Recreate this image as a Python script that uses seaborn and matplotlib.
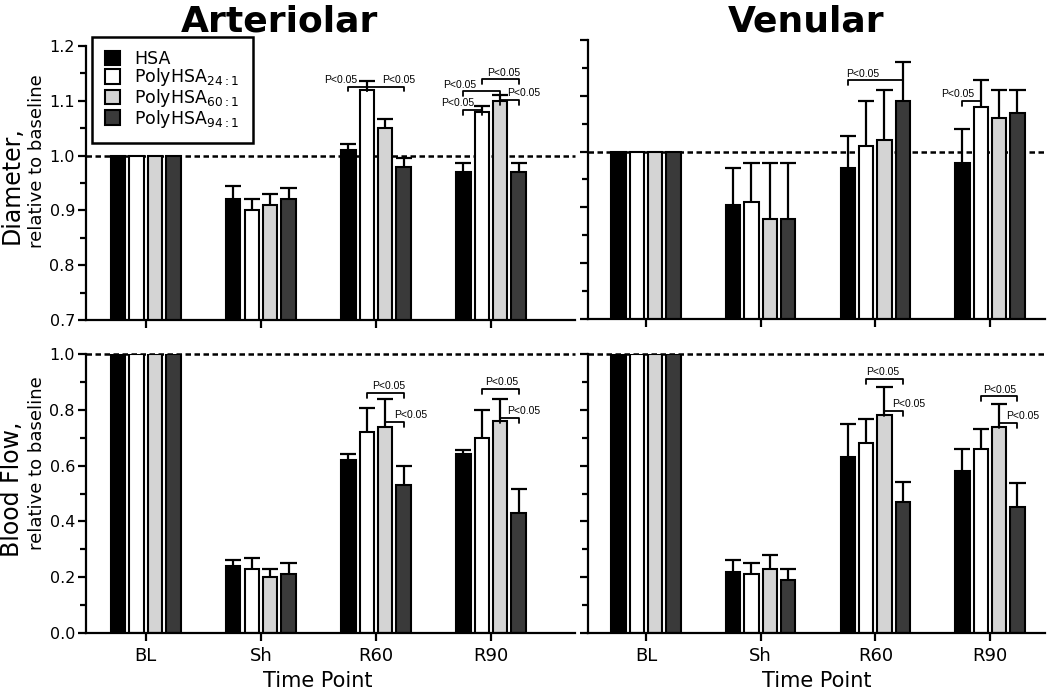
import pandas as pd
import matplotlib
matplotlib.use("Agg")
import matplotlib.pyplot as plt
from matplotlib.ticker import MultipleLocator, FormatStrFormatter
import seaborn as sns

sns.set_style("ticks")
plt.rcParams["font.family"] = ["DejaVu Sans"]
plt.rcParams["mathtext.fontset"] = "dejavusans"
for k in ["text.color", "axes.labelcolor", "xtick.color", "ytick.color", "axes.edgecolor"]:
    plt.rcParams[k] = "black"

time_points = ["BL", "Sh", "R60", "R90"]
treatments = ["HSA", "PolyHSA$_{24:1}$", "PolyHSA$_{60:1}$", "PolyHSA$_{94:1}$"]
bar_colors = ["#000000", "#ffffff", "#d4d4d4", "#3a3a3a"]

# one row per treatment, columns follow time_points
art_diam = [[1.0, 0.92, 1.01, 0.97],
            [1.0, 0.90, 1.12, 1.08],
            [1.0, 0.91, 1.05, 1.10],
            [1.0, 0.92, 0.98, 0.97]]
art_diam_err = [[0, 0.025, 0.012, 0.017],
                [0, 0.020, 0.016, 0.010],
                [0, 0.020, 0.017, 0.010],
                [0, 0.021, 0.016, 0.017]]

ven_diam = [[1.0, 0.905, 0.97, 0.98],
            [1.0, 0.91, 1.01, 1.08],
            [1.0, 0.88, 1.02, 1.06],
            [1.0, 0.88, 1.09, 1.07]]
ven_diam_err = [[0, 0.065, 0.058, 0.060],
                [0, 0.070, 0.080, 0.048],
                [0, 0.100, 0.090, 0.050],
                [0, 0.100, 0.070, 0.040]]

art_flow = [[1.0, 0.24, 0.62, 0.64],
            [1.0, 0.23, 0.72, 0.70],
            [1.0, 0.20, 0.74, 0.76],
            [1.0, 0.21, 0.53, 0.43]]
art_flow_err = [[0, 0.02, 0.020, 0.016],
                [0, 0.04, 0.087, 0.100],
                [0, 0.03, 0.100, 0.080],
                [0, 0.04, 0.070, 0.087]]

ven_flow = [[1.0, 0.22, 0.63, 0.58],
            [1.0, 0.21, 0.68, 0.66],
            [1.0, 0.23, 0.78, 0.74],
            [1.0, 0.19, 0.47, 0.45]]
ven_flow_err = [[0, 0.04, 0.120, 0.078],
                [0, 0.04, 0.086, 0.070],
                [0, 0.05, 0.100, 0.080],
                [0, 0.04, 0.070, 0.088]]

# significance brackets: (time point, bar a, bar b, level, label position in bar units)
art_diam_sig = [(2, 0, 1, 1.126, -0.4), (2, 1, 3, 1.126, 2.75),
                (3, 0, 1, 1.083, -0.3), (3, 0, 2, 1.117, -0.2),
                (3, 1, 3, 1.139, 2.2), (3, 2, 3, 1.102, 3.3)]
ven_diam_sig = [(2, 0, 3, 1.128, 0.8), (3, 0, 1, 1.091, -0.27)]
art_flow_sig = [(2, 1, 3, 0.862, 2.2), (2, 2, 3, 0.758, 3.4),
                (3, 1, 3, 0.874, 2.1), (3, 2, 3, 0.772, 3.3)]
ven_flow_sig = [(2, 1, 3, 0.910, 1.9), (2, 2, 3, 0.797, 3.3),
                (3, 1, 3, 0.848, 2.05), (3, 2, 3, 0.753, 3.3)]


def long_table(values, errors):
    rows = []
    for t, vals, errs in zip(treatments, values, errors):
        for tp, v, e in zip(time_points, vals, errs):
            rows.append({"time": tp, "group": t, "value": v, "err": e})
    return pd.DataFrame(rows)


def draw_panel(ax, values, errors, sig, ylim, major, xlim, ylabels=True, xlabels=True, legend=False):
    df = long_table(values, errors)
    sns.barplot(data=df, x="time", y="value", hue="group", order=time_points,
                hue_order=treatments, palette=dict(zip(treatments, bar_colors)),
                saturation=1, width=0.64, gap=0.22, edgecolor="black", linewidth=1.5,
                errorbar=None, legend=legend, ax=ax, zorder=2)
    ax.axhline(1.0, color="black", lw=1.8, ls=(0, (2.2, 1.4)), zorder=0.5, clip_on=False)

    cap = 0.07
    for h, cont in enumerate(ax.containers):
        for g, bar in enumerate(cont):
            e = errors[h][g]
            if e <= 0:
                continue
            xc = bar.get_x() + bar.get_width() / 2
            top = bar.get_height() + e
            ax.vlines(xc, bar.get_height(), top, color="black", lw=1.6, zorder=3)
            ax.hlines(top, xc - cap, xc + cap, color="black", lw=1.6, zorder=3)

    tick = 0.018 * (ylim[1] - ylim[0])
    for g, i, j, y, lx in sig:
        xs = [ax.containers[h][g].get_x() + ax.containers[h][g].get_width() / 2 for h in range(4)]
        pitch = xs[1] - xs[0]
        ax.plot([xs[i], xs[i], xs[j], xs[j]], [y - tick, y, y, y - tick],
                color="black", lw=1.3, zorder=4, clip_on=False)
        ax.annotate("P<0.05", (xs[0] + lx * pitch, y), xytext=(0, 1.2),
                    textcoords="offset points", ha="center", va="bottom",
                    fontsize=7.5, family="Liberation Sans")

    ax.set_xlim(xlim)
    ax.set_ylim(ylim)
    ax.yaxis.set_major_locator(MultipleLocator(major))
    ax.yaxis.set_minor_locator(MultipleLocator(major / 2))
    ax.yaxis.set_major_formatter(FormatStrFormatter("%.1f"))
    sns.despine(ax=ax)
    for s in ["left", "bottom"]:
        ax.spines[s].set_linewidth(1.6)
        ax.spines[s].set_color("black")
    ax.tick_params(which="major", width=1.6, length=6, color="black", labelsize=11.5, pad=2)
    ax.tick_params(axis="x", labelsize=13, pad=4)
    ax.tick_params(which="minor", width=1.6, length=4, color="black")
    ax.tick_params(axis="y", labelleft=ylabels)
    ax.tick_params(axis="x", labelbottom=xlabels)
    ax.set_xlabel("")
    ax.set_ylabel("")


fig = plt.figure(figsize=(10.5, 6.92), dpi=100)
W, H = 1050, 692


def box(l, r, t, b):
    return [l / W, 1 - b / H, (r - l) / W, (b - t) / H]


ax_tl = fig.add_axes(box(86, 575, 46, 320))
ax_tr = fig.add_axes(box(588, 1045, 40, 319))
ax_bl = fig.add_axes(box(86, 575, 354, 633))
ax_br = fig.add_axes(box(588, 1045, 354, 633))

left_x = (-0.52, 3.73)
right_x = (-0.506, 3.48)
draw_panel(ax_tl, art_diam, art_diam_err, art_diam_sig, (0.7, 1.2), 0.1, left_x,
           xlabels=False, legend=True)
draw_panel(ax_tr, ven_diam, ven_diam_err, ven_diam_sig, (0.7, 1.2), 0.1, right_x,
           ylabels=False, xlabels=False)
draw_panel(ax_bl, art_flow, art_flow_err, art_flow_sig, (0.0, 1.0), 0.2, left_x)
draw_panel(ax_br, ven_flow, ven_flow_err, ven_flow_sig, (0.0, 1.0), 0.2, right_x,
           ylabels=False)

sns.move_legend(ax_tl, "upper left", bbox_to_anchor=(91.7 / W, 1 - 36.7 / H),
                bbox_transform=fig.transFigure, title=None, frameon=True, fontsize=12.5,
                handlelength=0.9, handleheight=0.9, labelspacing=-0.08, borderpad=0.75,
                handletextpad=0.8, fancybox=False, edgecolor="black", framealpha=1,
                borderaxespad=0)
ax_tl.get_legend().get_frame().set_linewidth(1.8)

fig.text(280 / W, 1 - 21 / H, "Arteriolar", ha="center", va="center", fontsize=26, fontweight="bold")
fig.text(806 / W, 1 - 21 / H, "Venular", ha="center", va="center", fontsize=26, fontweight="bold")

fig.text(12 / W, 1 - 244 / H, "Diameter,", rotation=90, ha="center", va="bottom", fontsize=17)
fig.text(37 / W, 1 - 248 / H, "relative to baseline", rotation=90, ha="center", va="bottom", fontsize=13)
fig.text(12 / W, 1 - 557 / H, "Blood Flow,", rotation=90, ha="center", va="bottom", fontsize=17)
fig.text(37 / W, 1 - 550 / H, "relative to baseline", rotation=90, ha="center", va="bottom", fontsize=13)

fig.text(318 / W, 1 - 681 / H, "Time Point", ha="center", va="center", fontsize=15)
fig.text(817 / W, 1 - 681 / H, "Time Point", ha="center", va="center", fontsize=15)

fig.savefig("out.png", dpi=100)
